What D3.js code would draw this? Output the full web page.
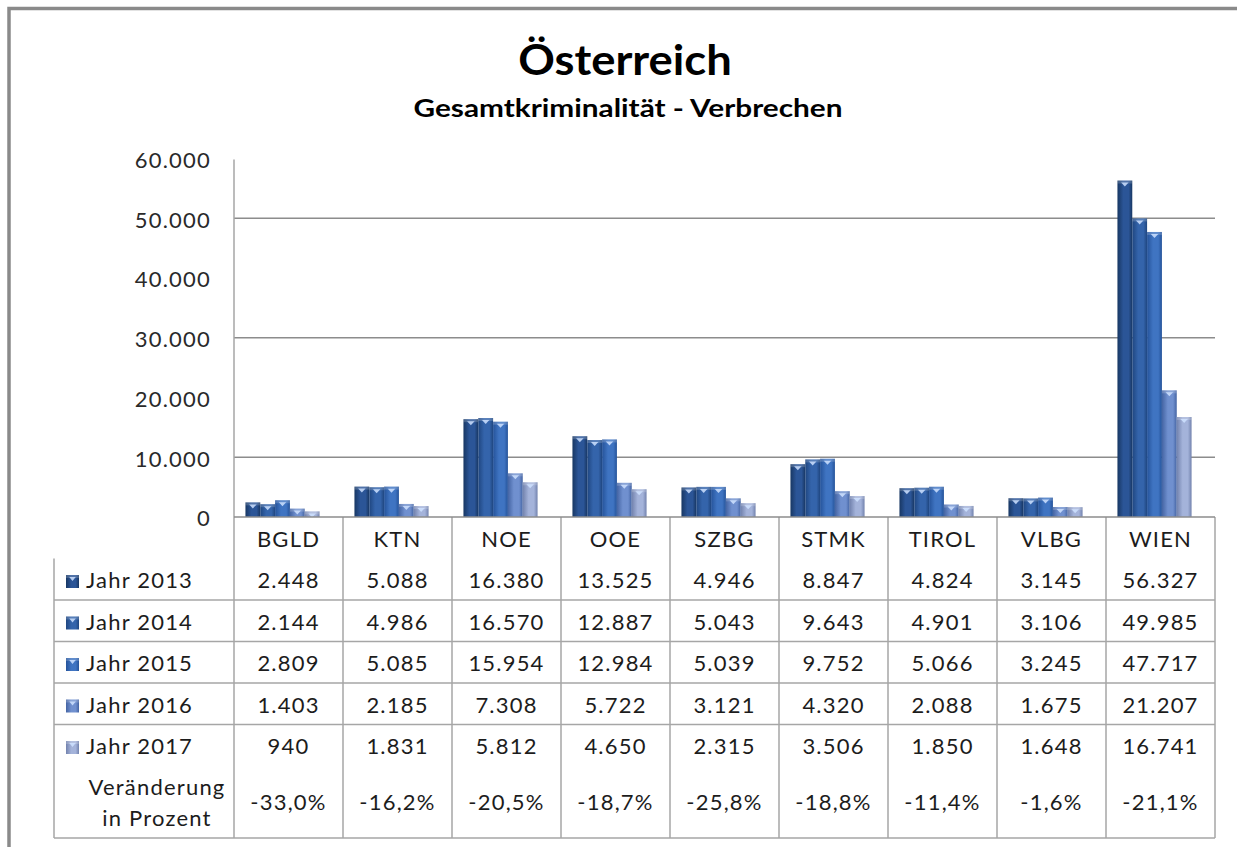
<!DOCTYPE html>
<html>
<head>
<meta charset="utf-8">
<script src="https://cdn.jsdelivr.net/npm/d3@7"></script>
<style>
	body { margin: 0; background: #fff; }
	svg { display: block; font-family: Lato, "Open Sans", sans-serif; }
</style>
</head>
<body>
<div id="chart"></div>
<script>
// Chart data
const categories = ["BGLD", "KTN", "NOE", "OOE", "SZBG", "STMK", "TIROL", "VLBG", "WIEN"];
const seriesNames = ["Jahr 2013", "Jahr 2014", "Jahr 2015", "Jahr 2016", "Jahr 2017"];
const jahr2013 = [2448, 5088, 16380, 13525, 4946, 8847, 4824, 3145, 56327];
const jahr2014 = [2144, 4986, 16570, 12887, 5043, 9643, 4901, 3106, 49985];
const jahr2015 = [2809, 5085, 15954, 12984, 5039, 9752, 5066, 3245, 47717];
const jahr2016 = [1403, 2185, 7308, 5722, 3121, 4320, 2088, 1675, 21207];
const jahr2017 = [940, 1831, 5812, 4650, 2315, 3506, 1850, 1648, 16741];
const changePercent = [-33.0, -16.2, -20.5, -18.7, -25.8, -18.8, -11.4, -1.6, -21.1];
const changeLabel = ["Veränderung", "in Prozent"];
const yTicks = [0, 10000, 20000, 30000, 40000, 50000, 60000];
const gridTicks = [10000, 30000, 50000];
const titleText = "Österreich";
const subtitleText = "Gesamtkriminalität - Verbrechen";

/**
 * Adds the svg to the page
 * @param {string} selectorString
 * @param {integer} width
 * @param {integer} height
 */
function addSvgToHtml(selectorString, width, height) {
	return d3.select(selectorString)
		.append("svg")
		.attr("width", width)
		.attr("height", height);
}

(function (d3) {
	"use strict";

	const width = 1237;
	const height = 847;
	const plot = { left: 234, right: 1215, top: 158.6, bottom: 517 };
	const table = { left: 54, rowHeight: 41.5, bottom: 838 };
	const textColor = "#1c1c1c";
	const lineColor = "#a6a6a6";
	const spacing = "1.2px";

	// colours of the bars: [edge, centre]
	const palette = [
		["#183763", "#2b5597"],
		["#1f4680", "#3464ab"],
		["#25539a", "#3f74c2"],
		["#4464a3", "#7090cf"],
		["#7282ad", "#a4b3da"]
	];

	const de = d3.formatLocale({ decimal: ",", thousands: ".", grouping: [3], currency: ["", "€"], minus: "-" });
	const fmtNumber = de.format(",.0f");
	const fmtPct = d => de.format(",.1f")(d) + "%";

	const series = [jahr2013, jahr2014, jahr2015, jahr2016, jahr2017]
		.map((values, i) => ({ name: seriesNames[i], values: values, index: i }));

	const svg = addSvgToHtml("#chart", width, height);

	// gradients for the bevel look
	const defs = svg.append("defs");
	palette.forEach((c, i) => {
		const g = defs.append("linearGradient")
			.attr("id", "grad" + i)
			.attr("x1", 0).attr("x2", 1).attr("y1", 0).attr("y2", 0);
		g.append("stop").attr("offset", "0%").attr("stop-color", c[0]);
		g.append("stop").attr("offset", "40%").attr("stop-color", c[1]);
		g.append("stop").attr("offset", "75%").attr("stop-color", c[1]);
		g.append("stop").attr("offset", "100%").attr("stop-color", c[0]);
	});

	// outer frame
	svg.append("rect")
		.attr("x", 9).attr("y", 8.5)
		.attr("width", 1300).attr("height", 900)
		.attr("fill", "none")
		.attr("stroke", "#8a8a8a")
		.attr("stroke-width", 3.5);

	// titles (stretched a little, the original font is wider)
	svg.append("text")
		.attr("transform", "translate(625,75) scale(1.08,1)")
		.attr("text-anchor", "middle")
		.attr("font-size", 42).attr("font-weight", "bold")
		.attr("fill", "#000")
		.text(titleText);
	svg.append("text")
		.attr("transform", "translate(628,117) scale(1.19,1)")
		.attr("text-anchor", "middle")
		.attr("font-size", 25).attr("font-weight", "bold")
		.attr("fill", "#000")
		.text(subtitleText);

	// scales
	const x = d3.scaleBand().domain(categories).range([plot.left, plot.right]);
	const bw = x.bandwidth();
	const xInner = d3.scaleBand()
		.domain(d3.range(series.length))
		.range([bw * 0.105, bw * 0.785]);
	const y = d3.scaleLinear().domain([0, 60000]).range([plot.bottom, plot.top]);

	// gridlines
	svg.append("g").selectAll("line")
		.data(gridTicks)
		.enter().append("line")
		.attr("x1", plot.left).attr("x2", plot.right)
		.attr("y1", d => y(d)).attr("y2", d => y(d))
		.attr("stroke", "#8c8c8c").attr("stroke-width", 1.5);

	// y axis
	const yAxis = d3.axisLeft(y)
		.tickValues(yTicks)
		.tickFormat(fmtNumber)
		.tickSize(0)
		.tickPadding(23);
	const yAxisGroup = svg.append("g")
		.attr("transform", "translate(" + plot.left + ",0)")
		.call(yAxis);
	yAxisGroup.select(".domain").remove();
	yAxisGroup.selectAll("text")
		.attr("font-family", "Lato, sans-serif")
		.attr("font-size", 22)
		.attr("letter-spacing", spacing)
		.attr("fill", "#2a2a2a")
		.attr("dy", "0.4em");

	// bars
	const bars = svg.append("g").selectAll("g")
		.data(series)
		.enter().append("g");

	const bar = bars.selectAll("g")
		.data(s => s.values.map((v, i) => ({ cat: categories[i], value: v, s: s.index })))
		.enter().append("g")
		.attr("transform", d => "translate(" + (x(d.cat) + xInner(d.s)) + "," + y(d.value) + ")");
	drawBevelBar(bar, xInner.bandwidth(), d => y(0) - y(d.value), d => d.s);

	/**
	 * Draws a bar with a gradient and a small top highlight
	 */
	function drawBevelBar(sel, w, h, s) {
		sel.append("rect")
			.attr("width", w)
			.attr("height", h)
			.attr("fill", d => "url(#grad" + s(d) + ")");
		sel.append("rect")
			.attr("width", w).attr("height", d => Math.min(3, h(d)))
			.attr("fill", "#ffffff").attr("opacity", 0.18);
		sel.append("path")
			.attr("d", d => {
				const th = Math.min(4, h(d) - 1);
				if (th <= 0) return "";
				return "M" + (w * 0.25) + ",2L" + (w * 0.75) + ",2L" + (w * 0.5) + "," + (2 + th) + "Z";
			})
			.attr("fill", "#cfe2ff").attr("opacity", 0.85);
	}

	// data table lines
	const rowTop = d => plot.bottom + d * table.rowHeight;
	const tableLines = svg.append("g")
		.attr("stroke", lineColor).attr("stroke-width", 1.5);
	// horizontal lines under the rows 2013..2016 and the bottom
	[2, 3, 4, 5].map(rowTop).concat([table.bottom]).forEach(yy => {
		tableLines.append("line")
			.attr("x1", table.left).attr("x2", plot.right)
			.attr("y1", yy).attr("y2", yy);
	});
	tableLines.append("line")
		.attr("x1", table.left).attr("x2", table.left)
		.attr("y1", rowTop(1)).attr("y2", table.bottom);
	tableLines.selectAll(".col")
		.data(categories.map(c => x(c)).concat([plot.right]))
		.enter().append("line")
		.attr("x1", d => d).attr("x2", d => d)
		.attr("y1", (d, i) => i === 0 ? plot.top + 1 : plot.bottom)
		.attr("y2", table.bottom);
	// x axis line
	svg.append("line")
		.attr("x1", plot.left).attr("x2", plot.right)
		.attr("y1", plot.bottom).attr("y2", plot.bottom)
		.attr("stroke", "#8c8c8c").attr("stroke-width", 1.5);

	// header row
	const cellText = svg.append("g")
		.attr("font-size", 22)
		.attr("letter-spacing", spacing)
		.attr("fill", textColor)
		.attr("text-anchor", "middle");
	cellText.selectAll(".hdr")
		.data(categories)
		.enter().append("text")
		.attr("x", d => x(d) + bw / 2)
		.attr("y", rowTop(1) - 12)
		.text(d => d);

	// value rows
	series.forEach((s, r) => {
		const base = rowTop(r + 2) - 12;
		cellText.append("g").selectAll("text")
			.data(s.values)
			.enter().append("text")
			.attr("x", (d, i) => x(categories[i]) + bw / 2)
			.attr("y", base)
			.text(fmtNumber);

		const key = svg.append("g")
			.datum({ s: r })
			.attr("transform", "translate(66," + (base - 13) + ")");
		drawBevelBar(key, 13, () => 13, d => d.s);
		svg.append("text")
			.attr("x", 86).attr("y", base)
			.attr("font-size", 22)
			.attr("letter-spacing", spacing)
			.attr("fill", textColor)
			.text(s.name);
	});

	// change row
	cellText.append("g").selectAll("text")
		.data(changePercent)
		.enter().append("text")
		.attr("x", (d, i) => x(categories[i]) + bw / 2)
		.attr("y", 809.5)
		.text(fmtPct);
	svg.append("g").selectAll("text")
		.data(changeLabel)
		.enter().append("text")
		.attr("x", 157)
		.attr("y", (d, i) => 795 + i * 30.5)
		.attr("text-anchor", "middle")
		.attr("font-size", 22)
		.attr("letter-spacing", spacing)
		.attr("fill", textColor)
		.text(d => d);
})(d3);
</script>
</body>
</html>
